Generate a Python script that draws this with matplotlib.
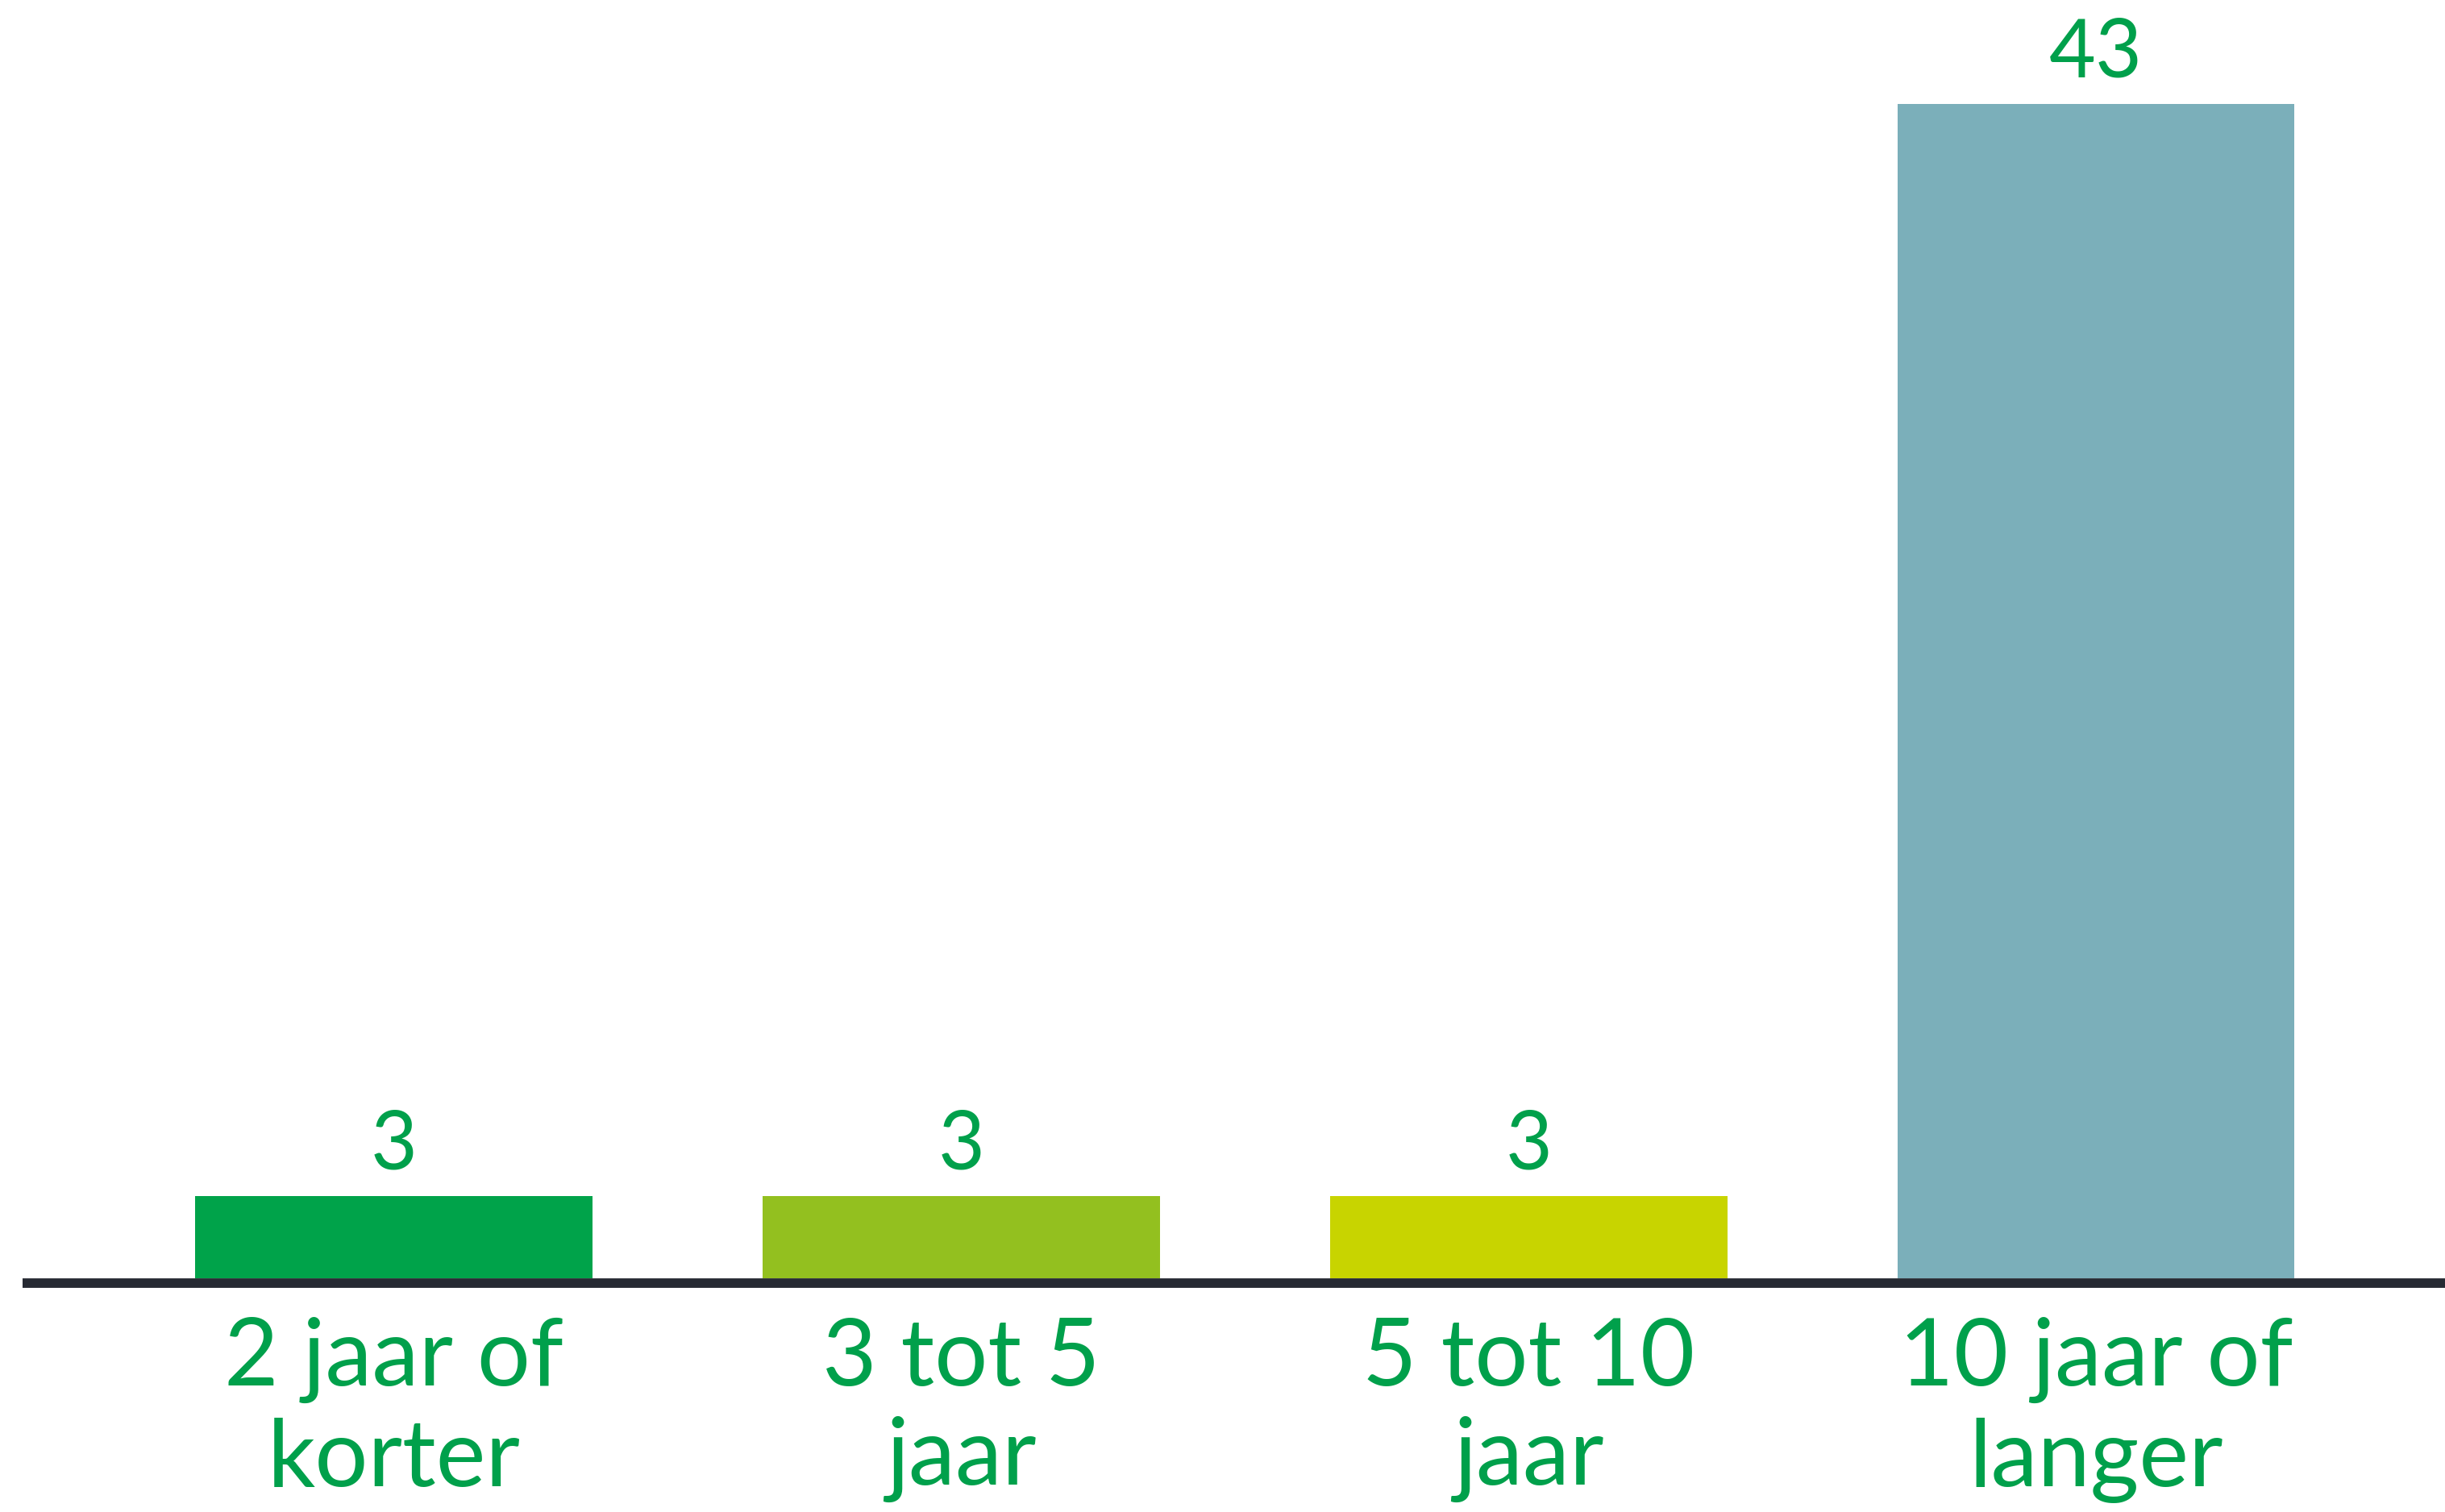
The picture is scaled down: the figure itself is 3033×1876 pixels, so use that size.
import matplotlib
matplotlib.use('Agg')
import matplotlib.pyplot as plt

# data
categories = ['2 jaar of\nkorter', '3 tot 5\njaar', '5 tot 10\njaar', '10 jaar of\nlanger']
values = [3, 3, 3, 43]
bar_colors = ['#00A34A', '#93C01F', '#C8D400', '#7BAFBA']
text_green = '#00A04B'

plt.rcParams['font.family'] = ['Lato', 'DejaVu Sans']

fig = plt.figure(figsize=(30.33, 18.76), dpi=100)
left_px = 28
ax = fig.add_axes([left_px / 3033, 1 - 1592 / 1876, 1 - left_px / 3033, 1592 / 1876])

x = list(range(len(categories)))
bars = ax.bar(x, values, width=0.70, color=bar_colors, zorder=2)

ax.bar_label(bars, labels=[str(v) for v in values], padding=12,
             fontsize=72, color=text_green)

ax.set_xlim(-0.654, 3.615)
ax.set_ylim(-0.18, 46.8)

ax.set_xticks(x)
ax.set_xticklabels(categories, fontsize=84, color=text_green, linespacing=1.22)
ax.tick_params(axis='x', length=0, pad=30)
ax.set_yticks([])

for side in ['top', 'right', 'left']:
    ax.spines[side].set_visible(False)
ax.spines['bottom'].set_color('#262A33')
ax.spines['bottom'].set_linewidth(8.5)
ax.spines['bottom'].set_capstyle('butt')
ax.spines['bottom'].set_zorder(3)

fig.savefig('out.png', dpi=100)
